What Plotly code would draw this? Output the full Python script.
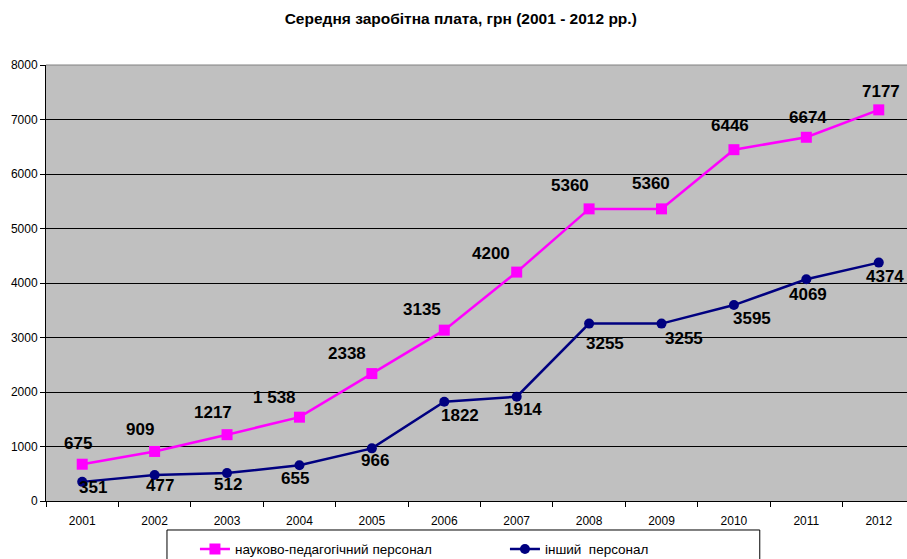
import plotly.graph_objects as go

# Average monthly salary, UAH, 2001-2012
years = ["2001", "2002", "2003", "2004", "2005", "2006",
         "2007", "2008", "2009", "2010", "2011", "2012"]
sci_staff = [675, 909, 1217, 1538, 2338, 3135, 4200, 5360, 5360, 6446, 6674, 7177]
other_staff = [351, 477, 512, 655, 966, 1822, 1914, 3255, 3255, 3595, 4069, 4374]

sci_name = "науково-педагогічний персонал"
other_name = "інший\u00a0 персонал"

# label text (one value is written with a thousands space)
sci_text = [str(v) for v in sci_staff]
sci_text[3] = f"{sci_staff[3] // 1000} {sci_staff[3] % 1000:03d}"
other_text = [str(v) for v in other_staff]

# label offsets in pixels (dx right, dy down) relative to each marker
sci_off = [(-4, -21), (-15, -22), (-14, -22), (-25, -20), (-25, -20), (-22, -21),
           (-26, -19), (-19, -23), (-11, -25), (-4, -24), (2, -20), (2, -18)]
other_off = [(11, 6), (5, 10), (1, 11), (-4, 13), (3, 12), (16, 14),
             (6, 13), (16, 20), (22, 15), (18, 13), (2, 15), (6, 14)]

PINK = "#FF00FF"
NAVY = "#000080"

fig = go.Figure()
fig.add_trace(go.Scatter(
    x=years, y=sci_staff, name=sci_name, mode="lines+markers",
    line=dict(color=PINK, width=2.5),
    marker=dict(symbol="square", size=11, color=PINK),
))
fig.add_trace(go.Scatter(
    x=years, y=other_staff, name=other_name, mode="lines+markers",
    line=dict(color=NAVY, width=2.5),
    marker=dict(symbol="circle", size=10, color=NAVY),
))

label_font = dict(family="Liberation Sans, Arial", size=17, color="black")
annotations = []
for values, texts, offsets in ((sci_staff, sci_text, sci_off),
                               (other_staff, other_text, other_off)):
    for i, (v, t, (dx, dy)) in enumerate(zip(values, texts, offsets)):
        annotations.append(dict(
            x=i, y=v, xref="x", yref="y", text=f"<b>{t}</b>", showarrow=False,
            xshift=dx, yshift=-dy, font=label_font,
        ))

shapes = [
    # frame around the legend
    dict(type="rect", xref="paper", yref="paper",
         x0=0.1405, x1=0.829, y0=-0.0665, y1=-0.2,
         line=dict(color="black", width=1), fillcolor="rgba(0,0,0,0)"),
    # top border of the plot area
    dict(type="line", xref="paper", yref="paper", x0=0, x1=1, y0=1, y1=1,
         line=dict(color="#808080", width=1)),
]

fig.update_layout(
    width=907, height=559,
    margin=dict(l=46, r=0, t=65, b=58, autoexpand=False),
    paper_bgcolor="white",
    plot_bgcolor="#C0C0C0",
    font=dict(family="Liberation Sans, Arial", size=12, color="black"),
    title=dict(text="<b>Середня заробітна плата, грн (2001 - 2012 рр.)</b>",
               x=0.508, xanchor="center", y=0.966, yanchor="middle",
               font=dict(size=15.5)),
    showlegend=True,
    legend=dict(orientation="h", x=0.173, xanchor="left", y=-0.075, yanchor="top",
                font=dict(size=13.5), bgcolor="rgba(0,0,0,0)",
                entrywidth=265, entrywidthmode="pixels"),
    xaxis=dict(
        type="category", range=[-0.5, 11.39],
        showline=True, linecolor="black", linewidth=1,
        ticks="outside", tickson="boundaries", ticklen=5, tickcolor="black",
        ticklabelstandoff=9,
        showgrid=False, zeroline=False, tickfont=dict(size=12),
    ),
    yaxis=dict(
        range=[0, 8000], dtick=1000,
        showline=True, linecolor="black", linewidth=1,
        ticks="outside", ticklen=5, tickcolor="black",
        showgrid=True, gridcolor="black", gridwidth=1,
        zeroline=False, tickfont=dict(size=12),
    ),
    annotations=annotations,
    shapes=shapes,
)

fig.write_html("out.html")
